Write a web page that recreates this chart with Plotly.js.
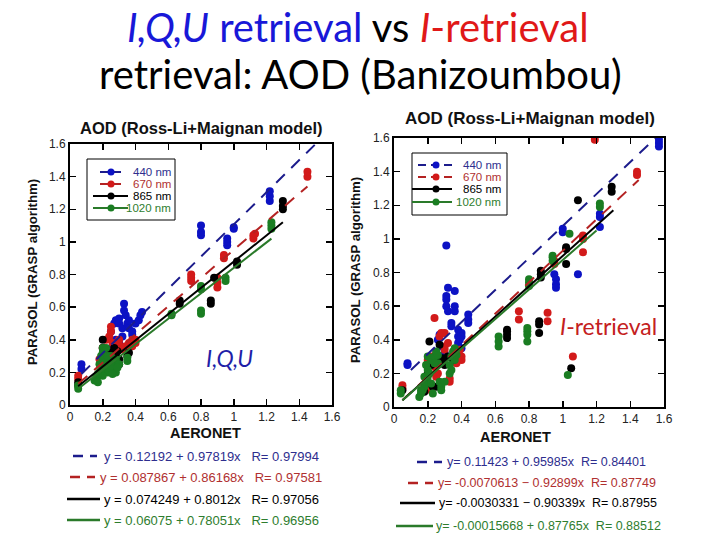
<!DOCTYPE html>
<html>
<head>
<meta charset="utf-8">
<script src="https://cdn.plot.ly/plotly-3.0.1.min.js"></script>
<style>html,body{margin:0;padding:0;background:#fff;}#chart{width:720px;height:540px;}</style>
</head>
<body>
<div id="chart"></div>
<script>
// ---------- DATA: left panel (I,Q,U retrieval) ----------
var L440x = [0.07,0.07,0.25,0.27,0.28,0.30,0.30,0.32,0.33,0.33,0.34,0.35,0.36,0.38,0.38,0.40,0.42,0.43,0.44,0.28,0.30,0.32,0.26,0.36,0.80,0.80,0.80,0.96,0.96,0.96,1.00,1.00,1.22,1.22,1.22];
var L440y = [0.22,0.25,0.45,0.50,0.52,0.50,0.53,0.47,0.62,0.58,0.55,0.50,0.47,0.43,0.45,0.50,0.52,0.55,0.57,0.40,0.38,0.42,0.36,0.52,1.10,1.06,1.04,0.98,1.00,1.02,1.08,1.09,1.25,1.28,1.31];
var L670x = [0.05,0.05,0.20,0.22,0.24,0.25,0.25,0.26,0.28,0.30,0.30,0.32,0.34,0.36,0.38,0.40,0.40,0.38,0.22,0.18,0.24,0.26,0.74,0.74,0.74,0.90,0.90,0.90,0.94,0.94,1.12,1.12,1.13,1.45,1.45];
var L670y = [0.16,0.18,0.35,0.40,0.42,0.45,0.48,0.38,0.35,0.40,0.37,0.34,0.36,0.38,0.36,0.38,0.40,0.40,0.30,0.28,0.33,0.30,0.78,0.76,0.80,0.72,0.75,0.78,0.90,0.92,1.02,1.04,1.05,1.40,1.43];
var L865x = [0.05,0.05,0.20,0.20,0.22,0.25,0.27,0.28,0.30,0.30,0.35,0.36,0.24,0.18,0.21,0.26,0.29,0.67,0.67,0.86,0.86,0.88,1.02,1.02,1.30,1.30,1.30];
var L865y = [0.12,0.14,0.40,0.35,0.30,0.32,0.35,0.30,0.25,0.28,0.30,0.32,0.26,0.20,0.24,0.28,0.33,0.62,0.64,0.62,0.64,0.78,0.86,0.88,1.20,1.22,1.25];
var L1020x = [0.05,0.05,0.15,0.16,0.18,0.18,0.19,0.20,0.20,0.20,0.22,0.22,0.23,0.24,0.25,0.26,0.27,0.28,0.28,0.30,0.22,0.20,0.17,0.35,0.35,0.24,0.26,0.19,0.21,0.23,0.25,0.29,0.17,0.62,0.62,0.80,0.80,0.80,0.80,0.95,0.95,1.23,1.23,1.23];
var L1020y = [0.10,0.12,0.15,0.17,0.20,0.25,0.30,0.35,0.32,0.28,0.22,0.25,0.20,0.27,0.30,0.22,0.25,0.20,0.28,0.25,0.35,0.18,0.14,0.27,0.29,0.23,0.19,0.22,0.26,0.30,0.24,0.23,0.19,0.55,0.56,0.56,0.58,0.71,0.73,0.76,0.78,1.08,1.10,1.12];
// fit line end points
var fitL440x = [0.07,1.50],  fitL440y = [0.19,1.60];
var fitL670x = [0.05,1.45],  fitL670y = [0.13,1.34];
var fitL865x = [0.05,1.30],  fitL865y = [0.115,1.12];
var fitL1020x = [0.05,1.23], fitL1020y = [0.10,1.02];

// ---------- DATA: right panel (I-retrieval) ----------
var R440x = [0.08,0.08,0.31,0.32,0.31,0.31,0.31,0.32,0.36,0.36,0.36,0.34,0.34,0.38,0.38,0.40,0.40,0.38,0.44,0.44,0.44,0.27,0.26,0.28,0.30,0.40,0.39,0.95,0.96,0.96,0.96,1.00,1.00,1.09,1.22,1.22,1.22,1.57,1.57,1.57];
var R440y = [0.25,0.26,0.96,0.71,0.66,0.64,0.60,0.57,0.69,0.60,0.57,0.50,0.48,0.46,0.42,0.44,0.42,0.38,0.55,0.52,0.50,0.43,0.40,0.36,0.32,0.35,0.40,0.79,0.76,0.73,0.71,1.06,1.04,0.79,1.07,1.13,1.15,1.55,1.57,1.59];
var R670x = [0.05,0.05,0.24,0.27,0.28,0.30,0.30,0.30,0.32,0.25,0.22,0.20,0.26,0.25,0.33,0.33,0.38,0.40,0.40,0.39,0.22,0.18,0.24,0.37,0.74,0.74,0.91,0.91,0.95,0.95,1.06,1.12,1.12,1.12,1.19,1.44,1.44];
var R670y = [0.13,0.11,0.53,0.42,0.44,0.44,0.36,0.34,0.38,0.32,0.30,0.28,0.20,0.18,0.17,0.15,0.32,0.30,0.28,0.34,0.10,0.12,0.24,0.26,0.57,0.52,0.56,0.51,0.85,0.87,0.30,0.92,1.00,1.02,1.59,1.38,1.40];
var R865x = [0.05,0.21,0.27,0.25,0.27,0.30,0.22,0.20,0.23,0.25,0.18,0.28,0.32,0.35,0.24,0.29,0.21,0.67,0.67,0.67,0.67,0.86,0.86,0.86,0.87,0.87,0.87,1.02,1.02,1.02,1.05,1.09,1.29,1.29];
var R865y = [0.10,0.39,0.37,0.30,0.27,0.25,0.25,0.20,0.12,0.12,0.09,0.14,0.30,0.28,0.27,0.29,0.14,0.41,0.43,0.45,0.46,0.44,0.49,0.51,0.77,0.79,0.81,0.85,0.94,0.95,0.23,1.23,1.28,1.31];
var R1020x = [0.04,0.04,0.15,0.16,0.17,0.18,0.19,0.20,0.20,0.19,0.20,0.22,0.24,0.25,0.26,0.27,0.28,0.28,0.30,0.33,0.33,0.34,0.35,0.36,0.36,0.22,0.23,0.18,0.16,0.21,0.24,0.26,0.34,0.37,0.62,0.62,0.62,0.79,0.79,0.79,0.79,0.80,0.80,0.80,0.94,0.94,0.94,1.03,1.04,1.22,1.22];
var R1020y = [0.08,0.10,0.06,0.08,0.10,0.12,0.15,0.18,0.22,0.25,0.30,0.28,0.30,0.33,0.26,0.15,0.12,0.10,0.15,0.20,0.25,0.30,0.33,0.28,0.35,0.14,0.08,0.18,0.10,0.20,0.26,0.31,0.22,0.31,0.36,0.39,0.42,0.39,0.43,0.45,0.47,0.72,0.74,0.76,0.87,0.89,0.90,0.19,1.03,1.19,1.21];
var fitR440x = [0.10,1.55],  fitR440y = [0.22,1.60];
var fitR670x = [0.05,1.45],  fitR670y = [0.04,1.35];
var fitR865x = [0.05,1.30],  fitR865y = [0.04,1.17];
var fitR1020x = [0.05,1.20], fitR1020y = [0.04,1.05];

// ---------- TEXT ----------
var seriesNames = ['440 nm','670 nm','865 nm','1020 nm'];
var eqLeft = ['y = 0.12192 + 0.97819x   R= 0.97994','y = 0.087867 + 0.86168x   R= 0.97581','y = 0.074249 + 0.8012x   R= 0.97056','y = 0.06075 + 0.78051x   R= 0.96956'];
var eqRight = ['y= 0.11423 + 0.95985x  R= 0.84401','y= -0.0070613 \u2212 0.92899x  R= 0.87749','y= -0.0030331 \u2212 0.90339x  R= 0.87955','y= -0.00015668 + 0.87765x  R= 0.88512'];
var panelTitle = 'AOD (Ross-Li+Maignan model)';
var yTitle = 'PARASOL (GRASP algorithm)';
var xTitle = 'AERONET';
var tickVals = [0,0.2,0.4,0.6,0.8,1,1.2,1.4,1.6];
var tickText = ['0','0.2','0.4','0.6','0.8','1','1.2','1.4','1.6'];

// ---------- STYLE ----------
var mColors = ['#0c12c4','#d21a1a','#000000','#1a7d22'];
var lColors = ['#1c1c8c','#b42222','#000000','#2a7a2a'];
var tColors = ['#2e2e8e','#b03030','#000000','#2e7d2e'];
var lDash = ['12px,9px','12px,9px','solid','solid'];
var W = 720, H = 540;
function px(x){return x/W;} function py(y){return 1-y/H;}
function nb(s){return s.replace(/ /g,'\u00a0');}

var traces = [];
function addPanel(xs, ys, fx, fy, xa, ya){
  for (var i=0;i<4;i++){
    traces.push({x:xs[i], y:ys[i], xaxis:xa, yaxis:ya, type:'scatter', mode:'markers',
      marker:{color:mColors[i], size:8, line:{width:0}}, showlegend:false, hoverinfo:'skip'});
  }
  for (var i=0;i<4;i++){
    traces.push({x:fx[i], y:fy[i], xaxis:xa, yaxis:ya, type:'scatter', mode:'lines',
      line:{color:lColors[i], width:2, dash:lDash[i]}, showlegend:false, hoverinfo:'skip', cliponaxis:true});
  }
}
addPanel([L440x,L670x,L865x,L1020x],[L440y,L670y,L865y,L1020y],
  [fitL440x,fitL670x,fitL865x,fitL1020x],[fitL440y,fitL670y,fitL865y,fitL1020y],'x','y');
addPanel([R440x,R670x,R865x,R1020x],[R440y,R670y,R865y,R1020y],
  [fitR440x,fitR670x,fitR865x,fitR1020x],[fitR440y,fitR670y,fitR865y,fitR1020y],'x2','y2');

function axis(dom, anchor){
  return {domain:dom, anchor:anchor, range:[0,1.6], tickvals:tickVals, ticktext:tickText,
    ticks:'inside', ticklen:6, tickwidth:1.5, tickcolor:'#000', showline:true, linecolor:'#000',
    linewidth:2, mirror:'ticks', showgrid:false, zeroline:false,
    tickfont:{family:'Liberation Sans, Arial, sans-serif', size:12, color:'#222'}, fixedrange:true};
}

var shapes = [], annotations = [];
var fontA = 'Liberation Sans, Arial, sans-serif';
// in-plot legend boxes
function legendBox(x0,y0,x1,y1,rows,lineX0,lineX1,dotX,textRight,fs){
  shapes.push({type:'rect',xref:'paper',yref:'paper',x0:px(x0),x1:px(x1),y0:py(y0),y1:py(y1),
    line:{color:'#000',width:1},fillcolor:'rgba(255,255,255,1)',layer:'above'});
  for (var i=0;i<4;i++){
    var yy = rows[i];
    shapes.push({type:'line',xref:'paper',yref:'paper',x0:px(lineX0[i]),x1:px(lineX1[i]),y0:py(yy),y1:py(yy),
      line:{color:lColors[i],width:2,dash:(i<2?'8px,5px':'solid')},layer:'above'});
    shapes.push({type:'circle',xref:'paper',yref:'paper',x0:px(dotX-3.5),x1:px(dotX+3.5),y0:py(yy+3.5),y1:py(yy-3.5),
      line:{width:0},fillcolor:mColors[i],layer:'above'});
    annotations.push({xref:'paper',yref:'paper',x:px(textRight),y:py(yy),xanchor:'right',yanchor:'middle',
      text:seriesNames[i],showarrow:false,font:{family:fontA,size:fs,color:tColors[i]}});
  }
}
legendBox(87,159,175,220,[172,184,196,208],[100,100,93,93],[125,125,128,128],111,173,11.5);
legendBox(412,153,507,215,[165,177,189,202],[418,418,412,412],[452,452,452,452],436,503,11.5);

// bottom equation lists
function eqList(sampleX0, sampleX1, textX, rows, texts, fs){
  for (var i=0;i<4;i++){
    shapes.push({type:'line',xref:'paper',yref:'paper',x0:px(sampleX0[i]),x1:px(sampleX1[i]),y0:py(rows[i]),y1:py(rows[i]),
      line:{color:lColors[i],width:2.5,dash:(i<2?'10px,7px':'solid')}});
    annotations.push({xref:'paper',yref:'paper',x:px(textX[i]),y:py(rows[i]),xanchor:'left',yanchor:'middle',
      text:nb(texts[i]),showarrow:false,font:{family:fontA,size:fs,color:tColors[i]}});
  }
}
eqList([73,70,67,67],[97,95,100,100],[102,98,102,102],[456,477,499,520],eqLeft,13);
eqList([417,408,400,396],[442,433,435,433],[445,436,437,434],[462,483,503,526],eqRight,12.5);

// panel titles & axis titles
function txt(x,y,t,size,opts){
  var a = {xref:'paper',yref:'paper',x:px(x),y:py(y),xanchor:'center',yanchor:'middle',text:t,showarrow:false,
    font:{family:fontA,size:size,color:'#111'}};
  for (var k in opts) a[k]=opts[k];
  annotations.push(a);
}
txt(201,128,'<b>'+panelTitle+'</b>',16.5);
txt(530,118,'<b>'+panelTitle+'</b>',17);
txt(32,272,'<b>'+yTitle+'</b>',13.2,{textangle:-90});
txt(355,270,'<b>'+yTitle+'</b>',13.2,{textangle:-90});
txt(205,433,'<b>'+xTitle+'</b>',14.5);
txt(515,437,'<b>'+xTitle+'</b>',14.5);
// in-plot labels
txt(230,358,'<i>I,Q,U</i>',23,{font:{family:'Lato, sans-serif',size:23,color:'#1f1fa8'}});
txt(608,326,'<i>I</i>-retrieval',23,{font:{family:'Lato, sans-serif',size:23,color:'#c42020'}});
// slide title
txt(358,27,'<span style="color:#1818d8"><i>I,Q,U</i> retrieval</span> vs <span style="color:#e01818"><i>I</i>-retrieval</span>',40,
  {font:{family:'Lato, sans-serif',size:40,color:'#000'}});
txt(360,74,'retrieval: AOD (Banizoumbou)',40,{font:{family:'Lato, sans-serif',size:40,color:'#000'}});

var layout = {
  width:W, height:H, margin:{l:0,r:0,t:0,b:0}, paper_bgcolor:'#fff', plot_bgcolor:'#fff', showlegend:false,
  xaxis: axis([px(70),px(332)],'y'),
  yaxis: axis([py(405),py(144)],'x'),
  xaxis2: axis([px(394),px(664)],'y2'),
  yaxis2: axis([py(407),py(138)],'x2'),
  shapes:shapes, annotations:annotations
};
Plotly.newPlot('chart', traces, layout, {staticPlot:true, displayModeBar:false});
</script>
</body>
</html>
